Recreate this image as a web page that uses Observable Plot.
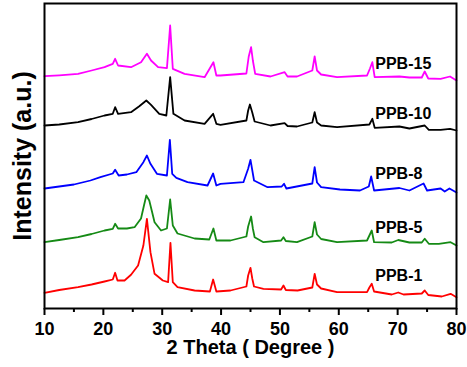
<!DOCTYPE html>
<html><head><meta charset="utf-8">
<script src="https://cdn.jsdelivr.net/npm/d3@7"></script>
<script src="https://cdn.jsdelivr.net/npm/@observablehq/plot@0.6"></script>
<style>body{margin:0;background:#fff} svg{display:block}</style>
</head><body><div id="chart"></div>
<script>
// [2theta, intensity (a.u., offset-stacked)]
const ppb1 = [[10,15.7],[12.5,18.5],[15.7,21.3],[18,24],[20.2,27],[21.6,29],[22.0,35.7],[22.4,28],[23.6,28],[24.7,33.7],[25.9,43],[26.8,63],[27.4,89.7],[28.0,56.3],[28.7,34.7],[30.1,28],[31.0,26.3],[31.4,65.7],[31.8,26.3],[32.6,21.3],[35.5,18],[38.1,17],[38.65,29],[39.2,17],[41.6,18],[44.3,22],[44.6,33],[45.0,40.7],[45.3,30],[45.6,22],[47.2,19.7],[50.2,19],[50.6,23],[51.0,18.5],[53,18],[55.5,21],[55.9,34.7],[56.3,24],[57,20],[59.7,16.3],[64.8,16.3],[65.2,21],[65.6,24.7],[66.0,17],[69,14],[70.1,16],[71,14],[74.1,15],[74.6,18],[75.2,13.5],[77.5,12],[79,14.7],[80,11.3]];
const ppb5 = [[10,66.3],[12.5,68.5],[15.7,71.3],[18,74.5],[20.2,78],[21.6,79.7],[22.0,84.7],[22.5,80],[24,80],[25.3,81.3],[26.4,90],[26.9,103],[27.3,113],[27.8,108],[28.3,96],[28.7,86.3],[29.8,78],[30.8,80],[31.35,109],[31.8,83],[32.6,75],[35.5,70],[38.0,69],[38.7,80],[39.2,68],[41.6,68],[44.3,72],[44.6,82],[45.1,92],[45.4,80],[45.7,71.3],[47.2,66.3],[50.2,68],[50.6,71.3],[51.0,67.5],[52.9,66.3],[55.5,72],[55.9,86.3],[56.3,74],[57,69.5],[59.7,66.3],[64.8,68],[65.2,73],[65.6,78],[66.0,66.3],[69,66],[70.1,68.5],[72,66],[74.1,66],[74.6,69.7],[75.3,64.7],[77,64.7],[79,66.3],[80,63]];
const ppb8 = [[10,120],[12.5,122],[15,124],[17.8,128],[19.5,131.3],[21.6,135],[22.0,138.7],[22.6,133],[24,134],[25.6,136.3],[26.8,146.3],[27.4,153],[28.0,144.7],[29.1,134.7],[30.8,133],[31.3,168.7],[31.7,134.7],[32.4,130.7],[34.3,126.3],[37.7,123],[38.65,135],[39.2,123],[39.9,124.7],[43.8,126.3],[44.6,139.7],[45.0,148.7],[45.6,128],[47.9,121.3],[50.3,122],[50.7,124.7],[51.1,120],[55.5,125],[55.9,141.3],[56.3,126],[57,121.3],[60.2,119],[63.6,118],[65.1,122],[65.5,132],[66.0,118],[70.3,120.5],[72,118],[74.4,125],[75.0,118],[77.3,120],[78.0,117],[78.8,120],[80,116]];
const ppb10 = [[10,183],[12.5,184],[15.7,186.3],[18,189.5],[20.2,193],[21.6,194.7],[22.0,201.3],[22.5,194.7],[24.7,196.3],[26.1,202.3],[27.3,208],[28.1,203.7],[29.5,194.7],[30.7,193],[31.35,231.3],[31.9,194.7],[33.8,188],[37.2,184.7],[38.65,194.7],[39.2,184.7],[39.9,183.7],[44.3,188],[44.6,198],[44.9,204],[45.3,196],[45.7,187],[48.4,183],[50.8,185.3],[51.3,182.5],[52.9,182],[55.5,186],[55.9,196.3],[56.3,186],[57,183],[59.7,181.3],[65.2,184],[65.7,189.7],[66.1,180.7],[70.3,182],[72,180],[74.6,183],[75.3,178.7],[77.3,178.7],[78.9,179.7],[80,178]];
const ppb15 = [[10,232.3],[12.5,233.2],[15.7,234.7],[18,238],[20.2,241.3],[21.6,244.7],[22.0,249.7],[22.5,243],[24.7,241.3],[26.4,246.3],[27.4,254.7],[28.1,248],[29.3,241.3],[30.8,240.3],[31.35,283],[31.8,239.7],[33.8,234.7],[37.2,231.3],[38.7,246.3],[39.2,233],[39.9,233],[44.3,235],[44.7,252],[45.1,261.3],[45.4,248],[45.8,234.7],[48.4,232],[50.8,236.3],[51.3,232],[52.9,232],[55.5,238],[55.9,252],[56.3,238],[57,234],[59.7,231.3],[64.8,233],[65.3,240],[65.7,246.3],[66.1,231.3],[70.3,232],[72,231],[74.1,231],[74.6,237],[75.2,230],[77.3,229.7],[78.9,232],[80,228]];

const seriesNames = ["PPB-1", "PPB-5", "PPB-8", "PPB-10", "PPB-15"];
const seriesColors = ["#ff0000", "#158a15", "#0000ff", "#000000", "#ff00ff"];
const labelY = [33, 81, 135, 195, 245];
const labelX = 66.2;
const majorTicks = [10, 20, 30, 40, 50, 60, 70, 80];
const minorTicks = [15, 25, 35, 45, 55, 65, 75];

const rows = [];
[ppb1, ppb5, ppb8, ppb10, ppb15].forEach((s, i) =>
  s.forEach(([t, v]) => rows.push({theta: t, intensity: v, sample: seriesNames[i]})));

const chart = Plot.plot({
  width: 467, height: 367,
  marginLeft: 44, marginRight: 11, marginTop: 3, marginBottom: 59,
  style: {fontFamily: "'Liberation Sans', Arial, sans-serif", background: "white", overflow: "visible"},
  x: {domain: [10, 80]},
  y: {domain: [0, 305], axis: null},
  color: {domain: seriesNames, range: seriesColors},
  marks: [
    Plot.line(rows, {x: "theta", y: "intensity", z: "sample", stroke: "sample", strokeWidth: 1.8}),
    Plot.text(seriesNames, {x: () => labelX, y: (d, i) => labelY[i], text: d => d, textAnchor: "start", fontSize: 16, fontWeight: "bold", fill: "black"}),
    Plot.axisX({ticks: majorTicks, tickSize: 7, tickPadding: 7, fontSize: 18, fontWeight: "bold", strokeWidth: 2, label: null}),
    Plot.axisX({ticks: minorTicks, tickSize: 4, text: null, strokeWidth: 2, label: null}),
    Plot.frame({stroke: "black", strokeWidth: 2}),
    Plot.text(["2 Theta ( Degree )"], {frameAnchor: "bottom", dy: 39, textAnchor: "middle", lineAnchor: "middle", text: d => d, fontSize: 20, fontWeight: "bold", fill: "black"}),
    Plot.text(["Intensity (a.u.)"], {frameAnchor: "left", dx: -22, rotate: -90, textAnchor: "middle", lineAnchor: "middle", text: d => d, fontSize: 25, fontWeight: "bold", fill: "black"})
  ]
});
document.getElementById("chart").appendChild(chart);
</script>
</body></html>
